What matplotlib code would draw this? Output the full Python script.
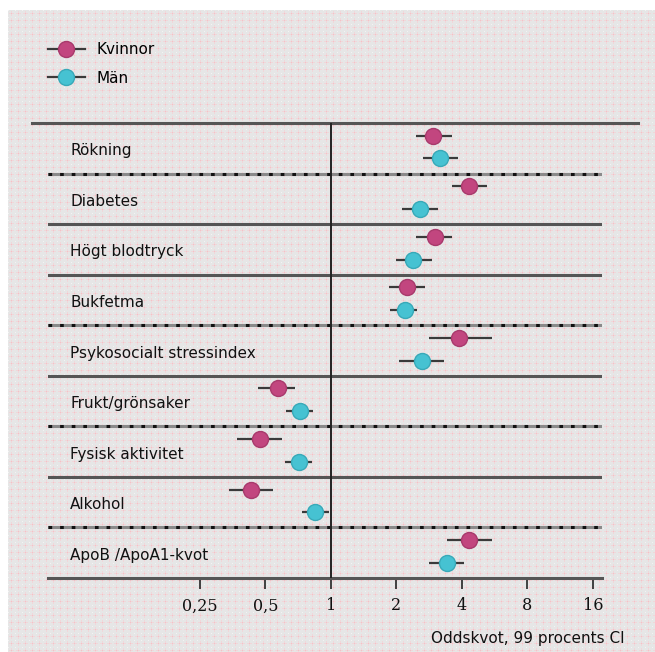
import numpy as np
import matplotlib
matplotlib.use('Agg')
import matplotlib.pyplot as plt
from matplotlib.lines import Line2D

# riskfaktorer och oddskvoter (99 % CI)
faktorer = ['Rökning', 'Diabetes', 'Högt blodtryck', 'Bukfetma',
            'Psykosocialt stressindex', 'Frukt/grönsaker', 'Fysisk aktivitet',
            'Alkohol', 'ApoB /ApoA1-kvot']
kvinnor_or = [2.94, 4.31, 3.01, 2.24, 3.88, 0.571, 0.472, 0.429, 4.31]
kvinnor_lo = [2.46, 3.60, 2.46, 1.85, 2.82, 0.462, 0.370, 0.340, 3.41]
kvinnor_hi = [3.60, 5.21, 3.60, 2.70, 5.50, 0.683, 0.595, 0.541, 5.50]
man_or = [3.17, 2.56, 2.38, 2.19, 2.62, 0.720, 0.713, 0.844, 3.41]
man_lo = [2.65, 2.12, 1.99, 1.87, 2.05, 0.621, 0.615, 0.736, 2.82]
man_hi = [3.83, 3.10, 2.91, 2.48, 3.31, 0.827, 0.818, 0.979, 4.09]
ticks = [0.25, 0.5, 1, 2, 4, 8, 16]
ticklabels = ['0,25', '0,5', '1', '2', '4', '8', '16']
# linjetyp mellan raderna
avdelare = ['streckad', 'hel', 'hel', 'streckad', 'hel', 'streckad', 'hel', 'streckad']

ROSA = '#c2467f'
TURKOS = '#46c2d2'

W, H = 655, 652
fig = plt.figure(figsize=(W / 100, H / 100), dpi=100, facecolor='white')

# rutmönstrad bakgrund
tile = np.full((7, 7, 3), 230, dtype=float)
tile[3, 1:6] = [241, 214, 217]
tile[1:6, 3] = [241, 214, 217]
tile[3, 3] = [240, 196, 200]
tile[0, 0] = 243
bg = np.tile(tile, (H // 7 + 1, W // 7 + 1, 1))[:H - 10, :W - 8] / 255.0
fig.figimage(bg, xo=8, yo=0, zorder=0)

ax = fig.add_axes([48 / W, 74 / H, 554 / W, 455 / H], zorder=2)
ax.patch.set_visible(False)
ax.set_xscale('log', base=2)
ax.set_xlim(0.0501, 17.6)
ax.set_ylim(9, 0)

y = np.arange(len(faktorer))
k = np.array(kvinnor_or)
m = np.array(man_or)
ax.errorbar(k, y + 0.25, xerr=[k - np.array(kvinnor_lo), np.array(kvinnor_hi) - k],
            fmt='o', ms=11.5, mfc=ROSA, mec='#a83a6c', mew=1, ecolor='#3a3a3a',
            elinewidth=1.6, capsize=0, zorder=5)
ax.errorbar(m, y + 0.7, xerr=[m - np.array(man_lo), np.array(man_hi) - m],
            fmt='o', ms=11.5, mfc=TURKOS, mec='#38a9b8', mew=1, ecolor='#3a3a3a',
            elinewidth=1.6, capsize=0, zorder=5)

for i, namn in enumerate(faktorer):
    ax.text(22 / 554, i + 0.55, namn, transform=ax.get_yaxis_transform(),
            fontsize=11, va='center', ha='left', color='#111111')

for i, typ in enumerate(avdelare):
    if typ == 'hel':
        ax.axhline(i + 1, color='#555555', lw=2.2, zorder=2)
    else:
        ax.axhline(i + 1, color='#8a8a8a', lw=2.2, zorder=2)
        ax.axhline(i + 1, color='#111111', lw=2.2, ls=(0, (1.2, 2.6)), zorder=2)

ax.axvline(1, color='#222222', lw=1.4, zorder=3)
# övre linjen går utanför diagrammet
ax.plot([-16 / 554, 590 / 554], [1, 1], transform=ax.transAxes, clip_on=False,
        color='#555555', lw=2.2)

for s in ['top', 'right', 'left']:
    ax.spines[s].set_visible(False)
ax.spines['bottom'].set_color('#555555')
ax.spines['bottom'].set_linewidth(2.2)
ax.set_yticks([])
ax.set_xticks(ticks)
ax.set_xticklabels(ticklabels, fontsize=11.5, family='DejaVu Serif', color='#111111')
ax.xaxis.set_minor_locator(matplotlib.ticker.NullLocator())
ax.tick_params(axis='x', direction='out', length=8, width=1.3, color='#333333', pad=6)

fig.text(625 / W, 14 / H, 'Oddskvot, 99 procents CI', ha='right', va='center',
         fontsize=11, color='#111111', zorder=3)

handles = [Line2D([], [], color='#3a3a3a', lw=1.6, marker='o', ms=11.5, mfc=ROSA,
                  mec='#a83a6c'),
           Line2D([], [], color='#3a3a3a', lw=1.6, marker='o', ms=11.5, mfc=TURKOS,
                  mec='#38a9b8')]
leg = fig.legend(handles, ['Kvinnor', 'Män'], loc='upper left',
                 bbox_to_anchor=(48 / W, (H - 42) / H), frameon=False, fontsize=11,
                 borderpad=0, borderaxespad=0, handlelength=2.4, handletextpad=0.8,
                 labelspacing=0.9)
leg.set_zorder(3)

fig.savefig('out.png', dpi=100)
